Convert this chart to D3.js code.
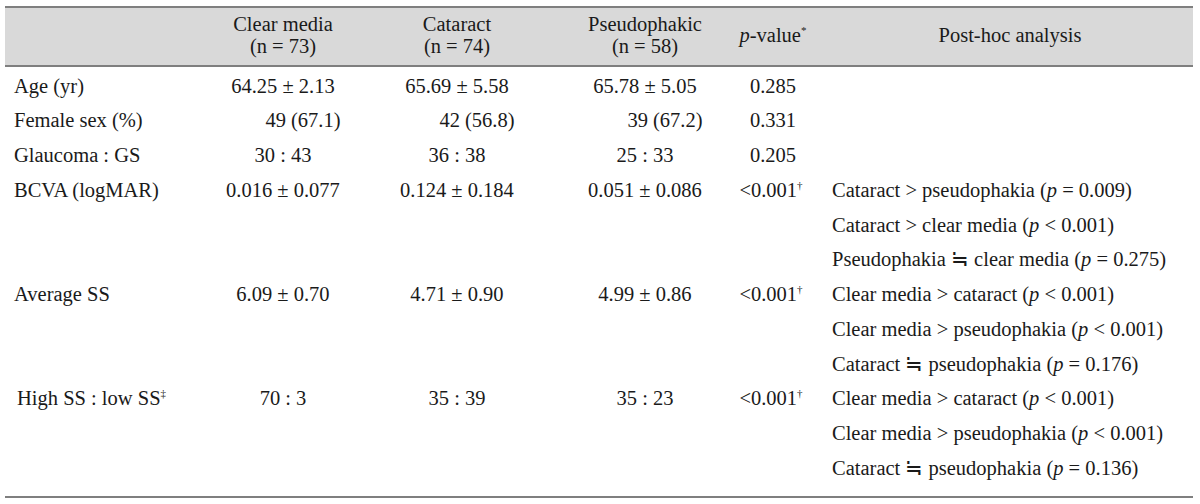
<!DOCTYPE html>
<html>
<head>
<meta charset="utf-8">
<script src="https://cdn.jsdelivr.net/npm/d3@7/dist/d3.min.js"></script>
<style>
  html, body { margin: 0; padding: 0; background: #ffffff; }
  svg text { font-family: "Liberation Serif", "Times New Roman", serif; fill: #1a1a1a; }
</style>
</head>
<body>
<svg id="chart" width="1200" height="504"></svg>
<script>
// ---------- data ----------
const groupNames   = ["Clear media", "Cataract", "Pseudophakic"];
const groupCounts  = ["(n = 73)", "(n = 74)", "(n = 58)"];
const rowLabels    = ["Age (yr)", "Female sex (%)", "Glaucoma : GS", "BCVA (logMAR)", "Average SS", "High SS : low SS"];
const rowLabelMark = ["", "", "", "", "", "\u2021"];
const clearMedia   = ["64.25 \u00b1 2.13", "49 (67.1)", "30 : 43", "0.016 \u00b1 0.077", "6.09 \u00b1 0.70", "70 : 3"];
const cataract     = ["65.69 \u00b1 5.58", "42 (56.8)", "36 : 38", "0.124 \u00b1 0.184", "4.71 \u00b1 0.90", "35 : 39"];
const pseudophakic = ["65.78 \u00b1 5.05", "39 (67.2)", "25 : 33", "0.051 \u00b1 0.086", "4.99 \u00b1 0.86", "35 : 23"];
const pValues      = ["0.285", "0.331", "0.205", "<0.001", "<0.001", "<0.001"];
const pValueMark   = ["", "", "", "\u2020", "\u2020", "\u2020"];
const postHoc = [
  [], [], [],
  ["Cataract > pseudophakia (p = 0.009)", "Cataract > clear media (p < 0.001)", "Pseudophakia \u2252 clear media (p = 0.275)"],
  ["Clear media > cataract (p < 0.001)", "Clear media > pseudophakia (p < 0.001)", "Cataract \u2252 pseudophakia (p = 0.176)"],
  ["Clear media > cataract (p < 0.001)", "Clear media > pseudophakia (p < 0.001)", "Cataract \u2252 pseudophakia (p = 0.136)"]
];

// ---------- layout ----------
const svg = d3.select("#chart");
const FS = 20.5;
const left = 5, right = 1193;
const topLine = 7, headLine = 66, bottomLine = 497;

// line index of each row (rows with post-hoc analyses occupy several lines)
const rowStart = [];
let acc = 0;
postHoc.forEach((p, i) => { rowStart.push(acc); acc += Math.max(1, p.length); });
const nLines = acc;

const y = d3.scaleLinear().domain([0, nLines - 1]).range([85.5, 468]);
const colX = { label: 14, g: [283, 457, 645], p: 773, post: 832, postHead: 1010 };

// header band
svg.append("rect").attr("x", left).attr("y", topLine).attr("width", right - left)
  .attr("height", headLine - topLine).attr("fill", "#d9d9d9");
[topLine, headLine, bottomLine].forEach(v => {
  svg.append("line").attr("x1", left).attr("x2", right).attr("y1", v).attr("y2", v)
    .attr("stroke", "#7f7f7f").attr("stroke-width", 2);
});

// header texts
const head = svg.append("g").attr("font-size", FS);
groupNames.forEach((g, i) => {
  head.append("text").attr("x", colX.g[i]).attr("y", 31).attr("text-anchor", "middle").text(g);
  head.append("text").attr("x", colX.g[i]).attr("y", 53).attr("text-anchor", "middle").text(groupCounts[i]);
});
const pv = head.append("text").attr("x", colX.p).attr("y", 42).attr("text-anchor", "middle");
pv.append("tspan").attr("font-style", "italic").text("p");
pv.append("tspan").text("-value");
pv.append("tspan").attr("font-size", 11).attr("dy", -8).text("*");
head.append("text").attr("x", colX.postHead).attr("y", 42).attr("text-anchor", "middle").text("Post-hoc analysis");

// body
const body = svg.append("g").attr("font-size", FS);
const base = i => y(i) + 7;

rowLabels.forEach((lab, r) => {
  const yy = base(rowStart[r]);
  const t = body.append("text").attr("x", colX.label + (rowLabelMark[r] ? 3 : 0)).attr("y", yy);
  t.append("tspan").text(lab);
  if (rowLabelMark[r]) t.append("tspan").attr("font-size", 11).attr("dy", -8).text(rowLabelMark[r]);

  const shift = r === 1 ? 20 : 0; // counts (%) row sits right of the column centre
  [clearMedia, cataract, pseudophakic].forEach((col, c) => {
    body.append("text").attr("x", colX.g[c] + shift).attr("y", yy).attr("text-anchor", "middle").text(col[r]);
  });

  const pt = body.append("text").attr("x", colX.p + (pValueMark[r] ? -2 : 0)).attr("y", yy).attr("text-anchor", "middle");
  pt.append("tspan").text(pValues[r]);
  if (pValueMark[r]) pt.append("tspan").attr("font-size", 11).attr("dy", -8).text(pValueMark[r]);

  postHoc[r].forEach((s, k) => {
    const m = s.match(/^(.*\()p(.*)$/);
    const tt = body.append("text").attr("x", colX.post).attr("y", base(rowStart[r] + k));
    tt.append("tspan").text(m[1]);
    tt.append("tspan").attr("font-style", "italic").text("p");
    tt.append("tspan").text(m[2]);
  });
});
</script>
</body>
</html>
